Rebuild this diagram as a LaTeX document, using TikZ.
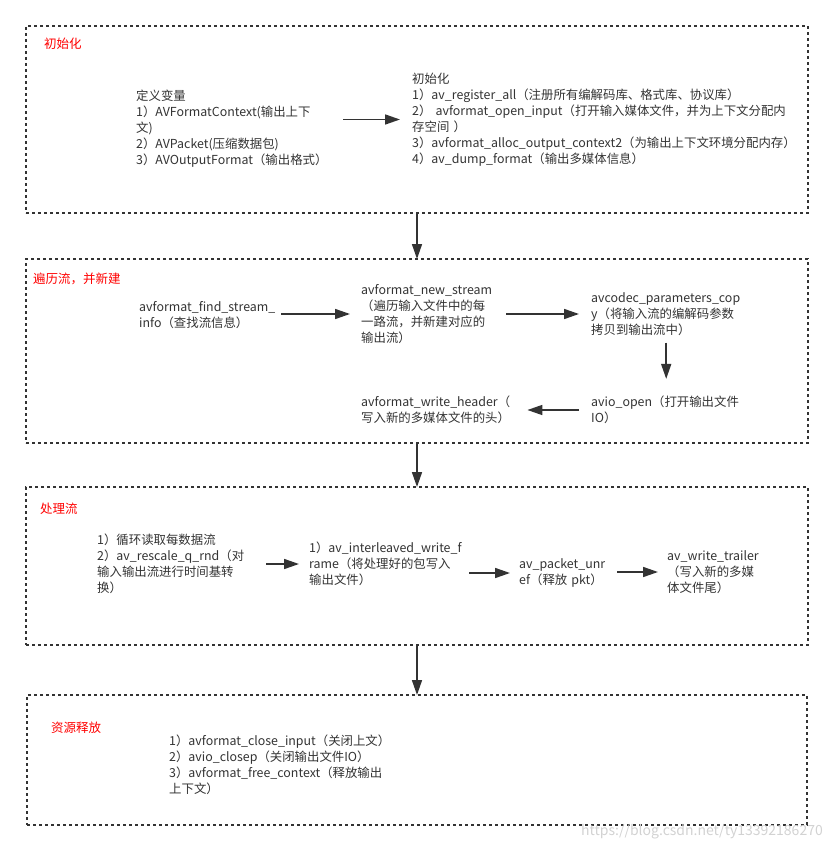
\documentclass[tikz,border=0pt]{standalone}
\usepackage{fontspec}
\setmainfont{Noto Sans CJK SC}
\usepackage{tikz}
\usetikzlibrary{arrows.meta}
\definecolor{ink}{HTML}{333333}

\begin{document}
\begin{tikzpicture}[x=1pt, y=-1pt,
    frame/.style={draw=ink, line width=1.6pt, dash pattern=on 3pt off 3pt, inner sep=0, outer sep=0},
    title/.style={text=red, anchor=west, inner sep=0, font=\fontsize{12.5}{16}\selectfont},
    txt/.style={text=ink, anchor=west, align=left, inner sep=0, font=\fontsize{12.4}{16}\selectfont},
    arr/.style={-{Triangle[length=15pt, width=10pt]}, draw=ink, line width=1.6pt}]
        \useasboundingbox (0,0) rectangle (833,850);
        % frames
        \node[frame, minimum width=782pt, minimum height=187pt] (initbox) at (417,119.5) {};
        \node[frame, minimum width=782pt, minimum height=184pt] (loopbox) at (417,351) {};
        \node[frame, minimum width=782pt, minimum height=158pt] (procbox) at (417,566) {};
        \node[frame, minimum width=780pt, minimum height=130pt] (freebox) at (417,760) {};
        \draw[arr] (initbox.south) -- (loopbox.north);
        \draw[arr] (loopbox.south) -- (procbox.north);
        \draw[arr] (procbox.south) -- (freebox.north);
        \node[title] (inittitle) at (44,44) {初始化};
        \node[title] (looptitle) at (33,279) {遍历流，并新建};
        \node[title] (proctitle) at (40,509) {处理流};
        \node[title] (freetitle) at (51,728) {资源释放};
        % init
        \node[txt, text width=180pt] (vars) at (136,128.5) {定义变量\\1）AVFormatContext(输出上下\\文)\\2）AVPacket(压缩数据包)\\3）AVOutputFormat（输出格式）};
        \node[txt, text width=380pt] (initcalls) at (412,119.5) {初始化\\1）av\_register\_all（注册所有编解码库、格式库、协议库）\\2） avformat\_open\_input（打开输入媒体文件，并为上下文分配内\\存空间 ）\\3）avformat\_alloc\_output\_context2（为输出上下文环境分配内存）\\4）av\_dump\_format（输出多媒体信息）};
        \draw[arr, shorten <=27pt, shorten >=12pt] (vars.east |- initcalls.west) -- (initcalls.west);
        % streams
        \node[txt, text width=134pt] (findinfo) at (139,315) {avformat\_find\_stream\_\\info（查找流信息）};
        \node[txt, text width=140pt] (newstream) at (361,314) {avformat\_new\_stream\\（遍历输入文件中的每\\一路流，并新建对应的\\输出流）};
        \node[txt, text width=150pt] (paramcopy) at (591,314) {avcodec\_parameters\_cop\\y（将输入流的编解码参数\\拷贝到输出流中）};
        \node[txt, text width=150pt] (avioopen) at (591,410) {avio\_open（打开输出文件\\IO）};
        \node[txt, text width=150pt] (writeheader) at (361,410) {avformat\_write\_header（\\写入新的多媒体文件的头）};
        \draw[arr, shorten <=8pt, shorten >=11pt] (findinfo.east |- newstream.west) -- (newstream.west);
        \draw[arr, shorten <=5pt, shorten >=12pt] (newstream.east |- paramcopy.west) -- (paramcopy.west);
        \draw[arr, shorten <=7pt, shorten >=17pt] (paramcopy.south) -- (avioopen.north);
        \draw[arr, shorten <=12pt, shorten >=16pt] (avioopen.west) -- (writeheader.east |- avioopen.west);
        % processing
        \node[txt, text width=150pt] (readloop) at (97,564) {1）循环读取每数据流\\2）av\_rescale\_q\_rnd（对\\输入输出流进行时间基转\\换）};
        \node[txt, text width=150pt] (interleave) at (309,564) {1）av\_interleaved\_write\_f\\rame（将处理好的包写入\\输出文件）};
        \node[txt, text width=88pt] (unref) at (519,573) {av\_packet\_unr\\ef（释放 pkt）};
        \node[txt, text width=100pt] (trailer) at (667,572) {av\_write\_trailer\\（写入新的多媒\\体文件尾）};
        \draw[arr, shorten <=19pt, shorten >=10pt] (readloop.east |- interleave.west) -- (interleave.west);
        \draw[arr, shorten <=10pt, shorten >=9pt] (interleave.east |- unref.west) -- (unref.west);
        \draw[arr, shorten <=10pt, shorten >=9pt] (unref.east |- trailer.west) -- (trailer.west);
        % release
        \node[txt, text width=220pt] (cleanup) at (169,765) {1）avformat\_close\_input（关闭上文）\\2）avio\_closep（关闭输出文件IO）\\3）avformat\_free\_context（释放输出\\上下文）};
        \node[text=gray!35, anchor=east, inner sep=0, font=\fontsize{14}{16}\selectfont] (watermark) at (823,832) {https://blog.csdn.net/ty13392186270};
\end{tikzpicture}
\end{document}
